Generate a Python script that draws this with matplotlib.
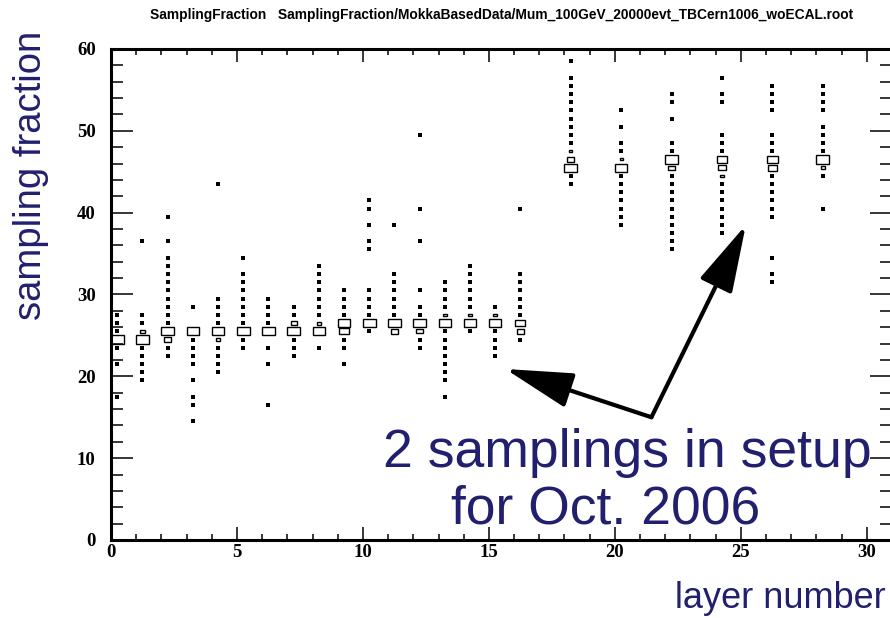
import matplotlib
matplotlib.use('Agg')
import matplotlib.pyplot as plt
from matplotlib.patches import Rectangle
from matplotlib.ticker import MultipleLocator

NAVY = '#221f6e'

# one column of cells per layer; x cells are 0.5 wide, y cells are 1 wide
layers = list(range(17)) + [18, 20, 22, 24, 26, 28]
cell_w = 0.5
cell_h = 1.0

# boxes per layer: (y bin, content relative to the largest cell)
boxes = [
    [(24, 1.0)],
    [(24, 1.0), (25, 0.35)],
    [(25, 1.0), (24, 0.55)],
    [(25, 1.0)],
    [(25, 1.0), (24, 0.3)],
    [(25, 1.0)],
    [(25, 1.0)],
    [(25, 1.0), (26, 0.5)],
    [(25, 1.0), (26, 0.35)],
    [(26, 0.9), (25, 0.75)],
    [(26, 1.0)],
    [(26, 1.0), (25, 0.6)],
    [(26, 1.0), (25, 0.5)],
    [(26, 1.0), (27, 0.3)],
    [(26, 1.0), (27, 0.35)],
    [(26, 1.0), (27, 0.35)],
    [(26, 0.8), (25, 0.6)],
    [(45, 1.0), (46, 0.55), (47, 0.25)],
    [(45, 1.0), (46, 0.25)],
    [(46, 1.0), (45, 0.5)],
    [(46, 0.8), (45, 0.65), (44, 0.3)],
    [(46, 0.9), (45, 0.75)],
    [(46, 1.0), (45, 0.3)],
]

# y bins holding only a few entries (drawn as dots)
dot_bins = [
    [27, 26, 25, 23, 21, 17],
    [36, 27, 26, 23, 22, 21, 20, 19],
    [39, 36, 34, 33, 32, 31, 30, 29, 28, 27, 26, 23, 22],
    [28, 24, 23, 22, 21, 19, 17, 16, 14],
    [43, 29, 28, 27, 26, 23, 22, 21, 20],
    [34, 32, 31, 30, 29, 28, 27, 26, 24, 23],
    [29, 28, 27, 26, 23, 21, 16],
    [28, 27, 24, 23, 22],
    [33, 32, 31, 30, 29, 28, 27, 23],
    [30, 29, 28, 27, 24, 23, 21],
    [41, 40, 38, 36, 35, 30, 29, 28, 27, 25],
    [38, 32, 31, 30, 29, 28, 27],
    [49, 40, 36, 30, 28, 27, 24, 23],
    [31, 30, 29, 28, 25, 24, 23, 22, 21, 20, 19, 17],
    [33, 32, 31, 30, 29, 28, 25],
    [28, 25, 24, 23, 22],
    [40, 32, 31, 30, 29, 28, 27, 24],
    [58, 56, 55, 54, 53, 52, 51, 50, 49, 48, 44, 43],
    [52, 50, 48, 47, 44, 43, 42, 41, 40, 39, 38],
    [54, 53, 51, 48, 47, 44, 43, 42, 41, 40, 39, 38, 37, 36, 35],
    [56, 54, 53, 49, 48, 47, 43, 42, 41, 40, 39, 38, 37],
    [55, 54, 53, 52, 49, 48, 47, 44, 43, 42, 41, 40, 39, 34, 32, 31],
    [55, 54, 53, 52, 50, 49, 48, 47, 44, 40],
]

arrow_start = (21.45, 15.0)
arrow_tips = [(15.65, 20.9), (25.2, 38.5)]

fig = plt.figure(figsize=(8.9, 6.18), dpi=100)
ax = fig.add_axes([111 / 890, 78 / 618, 781 / 890, 491 / 618])

for layer, blist in zip(layers, boxes):
    for ybin, frac in blist:
        w = cell_w * frac
        h = cell_h * frac
        cx = layer + cell_w / 2
        cy = ybin + cell_h / 2
        ax.add_patch(Rectangle((cx - w / 2, cy - h / 2), w, h, facecolor='none',
                               edgecolor='black', linewidth=1.0))

dot_x = [layer + cell_w / 2 for layer, dl in zip(layers, dot_bins) for _ in dl]
dot_y = [b + cell_h / 2 for dl in dot_bins for b in dl]
ax.scatter(dot_x, dot_y, marker='s', s=5, color='black', linewidths=0)

for tip in arrow_tips:
    ax.annotate('', xy=tip, xytext=arrow_start,
                arrowprops=dict(arrowstyle='-|>,head_length=2.1,head_width=0.55',
                                mutation_scale=20, lw=3, color='black',
                                shrinkA=0, shrinkB=0))

ax.set_xlim(0, 31)
ax.set_ylim(0, 60)
ax.xaxis.set_major_locator(MultipleLocator(5))
ax.xaxis.set_minor_locator(MultipleLocator(1))
ax.yaxis.set_major_locator(MultipleLocator(10))
ax.yaxis.set_minor_locator(MultipleLocator(2))
ax.tick_params(which='both', direction='in', top=True, right=True, width=1.1)
ax.tick_params(axis='x', which='major', length=9.5, pad=3)
ax.tick_params(axis='x', which='minor', length=4.5)
ax.tick_params(axis='y', which='major', length=16, pad=11)
ax.tick_params(axis='y', which='minor', length=8.5)
for lab in ax.get_xticklabels() + ax.get_yticklabels():
    lab.set_family('Liberation Serif')
    lab.set_fontweight('bold')
    lab.set_fontsize(13.5)
for sp in ax.spines.values():
    sp.set_linewidth(2.2)

fig.text(502 / 890, 1 - 15 / 618,
         'SamplingFraction   SamplingFraction/MokkaBasedData/Mum_100GeV_20000evt_TBCern1006_woECAL.root',
         ha='center', va='center', fontsize=9.9, fontweight='bold', family='Liberation Sans')
fig.text(31 / 890, 1 - 175 / 618, 'sampling fraction', rotation=90,
         ha='center', va='center', fontsize=27.5, color=NAVY, family='Liberation Sans')
fig.text(886 / 890, 1 - 598 / 618, 'layer number',
         ha='right', va='center', fontsize=26, color=NAVY, family='Liberation Sans')

# two-line note, second line sits a little left of the first
fig.text(627 / 890, 1 - 467 / 618, '2 samplings in setup',
         ha='center', va='baseline', fontsize=38.5, color=NAVY, family='Liberation Sans')
fig.text(606 / 890, 1 - 523 / 618, 'for Oct. 2006',
         ha='center', va='baseline', fontsize=38.5, color=NAVY, family='Liberation Sans')

fig.savefig('out.png', dpi=100)
